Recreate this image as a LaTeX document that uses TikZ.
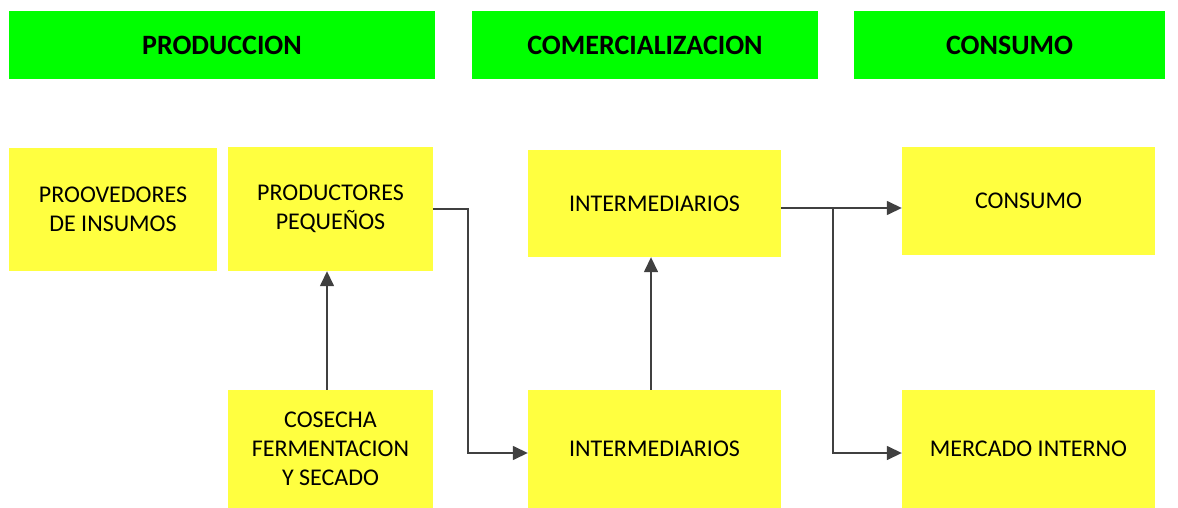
\documentclass[tikz,border=0pt]{standalone}
\usepackage{fontspec}
\setmainfont{Carlito}
\usetikzlibrary{arrows.meta}
\definecolor{hdrgreen}{HTML}{00FF00}
\definecolor{boxyellow}{HTML}{FFFF40}
\definecolor{linegray}{HTML}{404040}
\tikzset{
  hdr/.style={fill=hdrgreen, inner sep=0pt, minimum height=68pt, font=\fontsize{28}{34}\selectfont\bfseries},
  stage/.style={fill=boxyellow, inner sep=0pt, align=center, font=\fontsize{24}{29}\selectfont},
  flow/.style={draw=linegray, line width=1.5pt, -{Triangle[length=15pt,width=14pt]}}
}
\begin{document}
\begin{tikzpicture}[x=1pt, y=-1pt]
  \useasboundingbox (0,0) rectangle (1178,508);
  % headers
  \node[hdr, minimum width=426pt] (prodhdr) at (222,45) {PRODUCCION};
  \node[hdr, minimum width=346pt] (comhdr) at (645,45) {COMERCIALIZACION};
  \node[hdr, minimum width=311pt] (conhdr) at (1009.5,45) {CONSUMO};
  % stages
  \node[stage, minimum width=208pt, minimum height=123pt] (prov) at (113,209.5) {PROOVEDORES\\DE INSUMOS};
  \node[stage, minimum width=205pt, minimum height=124pt] (prod) at (330.5,209) {PRODUCTORES\\PEQUEÑOS};
  \node[stage, minimum width=205pt, minimum height=118pt] (cosecha) at (330.5,449) {COSECHA\\FERMENTACION\\Y SECADO};
  \node[stage, minimum width=253pt, minimum height=107pt] (interA) at (654.5,203.5) {INTERMEDIARIOS};
  \node[stage, minimum width=253pt, minimum height=118pt] (interB) at (654.5,449) {INTERMEDIARIOS};
  \node[stage, minimum width=253pt, minimum height=108pt] (consumo) at (1028.5,201) {CONSUMO};
  \node[stage, minimum width=253pt, minimum height=118pt] (mercado) at (1028.5,449) {MERCADO INTERNO};
  % connectors
  \coordinate (split) at (833,208);
  \draw[flow] (cosecha.north -| 327,0) -- (prod.south -| 327,0);
  \draw[flow] (prod.east |- 0,209) -- (468,209) -- (468,453) -- (interB.west |- 0,453);
  \draw[flow] (interB.north -| 651,0) -- (interA.south -| 651,0);
  \draw[flow] (interA.east |- 0,208) -- (consumo.west |- 0,208);
  \draw[flow] (split) -- (833,453) -- (mercado.west |- 0,453);
\end{tikzpicture}
\end{document}
